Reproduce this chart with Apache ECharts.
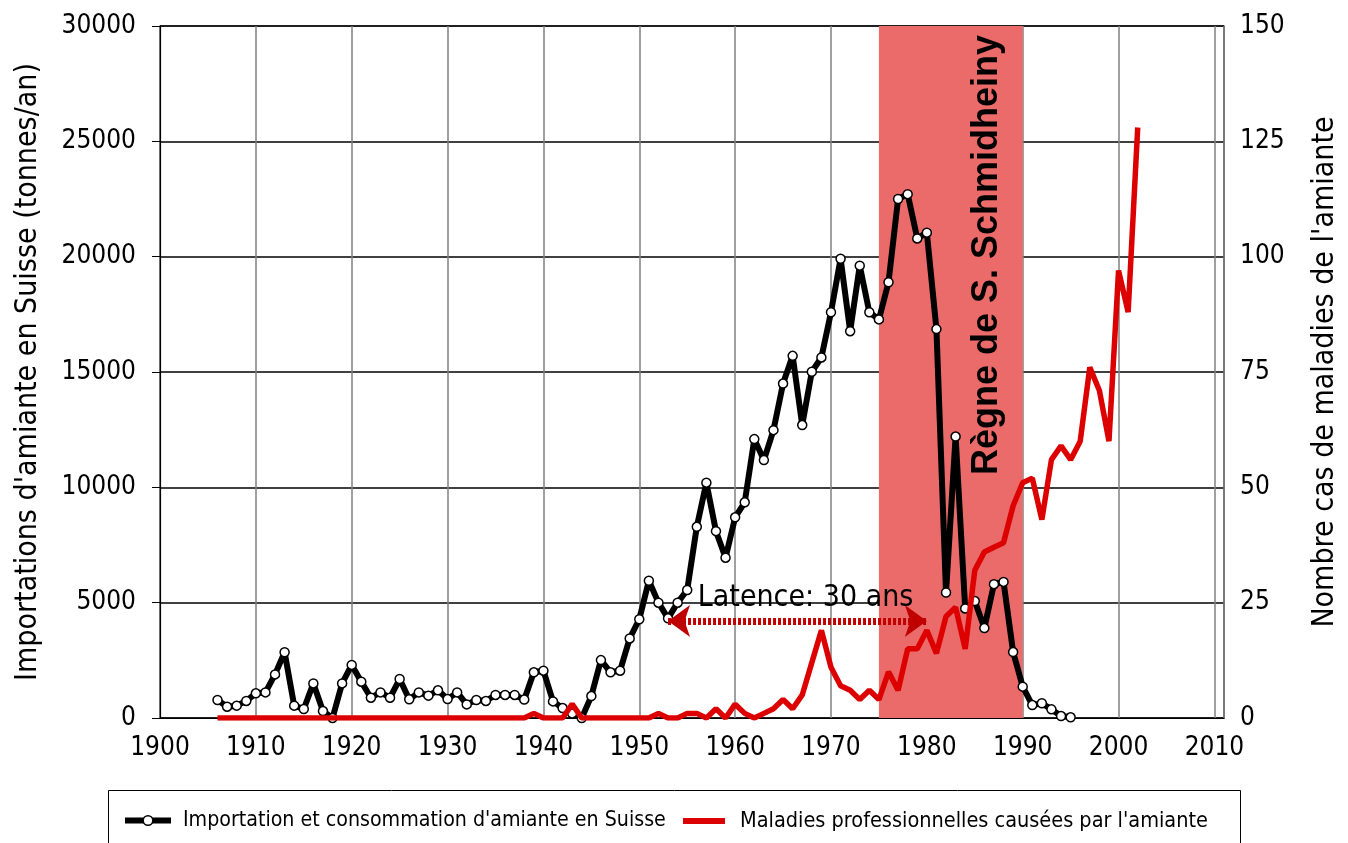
<!DOCTYPE html>
<html>
<head>
<meta charset="utf-8">
<script src="https://cdn.jsdelivr.net/npm/echarts@6/dist/echarts.min.js"></script>
<style>
html,body{margin:0;padding:0;background:#fff;}
#chart{width:1348px;height:843px;}
</style>
</head>
<body>
<div id="chart"></div>
<script>
// ---- Data ----
const importYears = [1906,1907,1908,1909,1910,1911,1912,1913,1914,1915,1916,1917,1918,1919,1920,1921,1922,1923,1924,1925,1926,1927,1928,1929,1930,1931,1932,1933,1934,1935,1936,1937,1938,1939,1940,1941,1942,1943,1944,1945,1946,1947,1948,1949,1950,1951,1952,1953,1954,1955,1956,1957,1958,1959,1960,1961,1962,1963,1964,1965,1966,1967,1968,1969,1970,1971,1972,1973,1974,1975,1976,1977,1978,1979,1980,1981,1982,1983,1984,1985,1986,1987,1988,1989,1990,1991,1992,1993,1994,1995];
const importValues = [780,490,535,740,1070,1110,1890,2850,535,390,1500,300,0,1500,2300,1575,880,1110,880,1690,810,1110,970,1200,820,1110,590,780,740,1000,1000,1000,800,1980,2050,720,430,200,0,950,2510,1980,2050,3450,4280,5950,5000,4320,5000,5550,8290,10200,8100,6950,8700,9350,12090,11180,12480,14500,15700,12700,15010,15630,17590,19910,16770,19610,17590,17280,18890,22500,22710,20790,21040,16860,5440,12200,4750,5070,3900,5800,5900,2860,1360,560,640,375,85,30];
const caseYears = [1906,1907,1908,1909,1910,1911,1912,1913,1914,1915,1916,1917,1918,1919,1920,1921,1922,1923,1924,1925,1926,1927,1928,1929,1930,1931,1932,1933,1934,1935,1936,1937,1938,1939,1940,1941,1942,1943,1944,1945,1946,1947,1948,1949,1950,1951,1952,1953,1954,1955,1956,1957,1958,1959,1960,1961,1962,1963,1964,1965,1966,1967,1968,1969,1970,1971,1972,1973,1974,1975,1976,1977,1978,1979,1980,1981,1982,1983,1984,1985,1986,1987,1988,1989,1990,1991,1992,1993,1994,1995,1996,1997,1998,1999,2000,2001,2002];
const caseValues = [0,0,0,0,0,0,0,0,0,0,0,0,0,0,0,0,0,0,0,0,0,0,0,0,0,0,0,0,0,0,0,0,0,1,0,0,0,3,0,0,0,0,0,0,0,0,1,0,0,1,1,0,2,0,3,1,0,1,2,4,2,5,12,19,11,7,6,4,6,4,10,6,15,15,19,14,22,24,15,32,36,37,38,46,51,52,43,56,59,56,60,76,71,60,97,88,128];
const xTicks = {min:1900, max:2011, interval:10};
const leftTicks = {min:0, max:30000, interval:5000};
const rightTicks = {min:0, max:150, interval:25};
const reignYears = [1975, 1990];
const latencyYears = [1953, 1980];
const latencyLevel = 4200;
const seriesNames = ["Importation et consommation d'amiante en Suisse", "Maladies professionnelles causées par l'amiante"];

const NARROW = "'Liberation Sans Narrow','Arial Narrow','DejaVu Sans Condensed',sans-serif";
const plain = v => String(v);

const chart = echarts.init(document.getElementById('chart'));
const option = {
  animation: false,
  backgroundColor: '#fff',
  grid: {left:160, right:124, top:26, bottom:125, show:true, borderColor:'#000', borderWidth:1.2, z:1},
  legend: [{
    data: [seriesNames[0]], selectedMode: false,
    left: 122, top: 810, padding: 0,
    itemWidth: 46, itemHeight: 12, itemGap: 0,
    lineStyle: {color:'#000', width:6},
    itemStyle: {color:'#fff', borderColor:'#000', borderWidth:1.5},
    textStyle: {fontFamily: NARROW, fontSize: 21.2, color:'#000', padding:[0,0,0,7]}
  },{
    data: [seriesNames[1]], selectedMode: false,
    left: 683, top: 810, padding: 0,
    itemWidth: 42, itemHeight: 6, itemGap: 0, icon: 'rect',
    itemStyle: {color:'#DD0000'},
    textStyle: {fontFamily: NARROW, fontSize: 21.5, color:'#000', padding:[0,0,0,10]}
  }],
  xAxis: {
    type: 'value', min: xTicks.min, max: xTicks.max, interval: xTicks.interval, z: 1,
    axisLine: {show:true, onZero:false, lineStyle:{color:'#000', width:1.2}},
    axisTick: {show:false},
    axisLabel: {fontFamily: NARROW, fontSize: 26, color:'#000', margin: 17, showMaxLabel:false, formatter: plain},
    splitLine: {show:true, lineStyle:{color:'#808080', width:1.5}}
  },
  yAxis: [{
    type: 'value', min: leftTicks.min, max: leftTicks.max, interval: leftTicks.interval, z: 1,
    name: "Importations d'amiante en Suisse (tonnes/an)",
    nameLocation: 'middle', nameRotate: 90, nameGap: 117,
    nameTextStyle: {fontFamily: NARROW, fontSize: 30, color:'#000'},
    axisLine: {show:true, lineStyle:{color:'#000', width:1.2}},
    axisTick: {show:true, length:8, lineStyle:{color:'#000'}},
    axisLabel: {fontFamily: NARROW, fontSize: 26, color:'#000', margin: 24, formatter: plain},
    splitLine: {show:true, lineStyle:{color:'#000', width:1.5}}
  },{
    type: 'value', min: rightTicks.min, max: rightTicks.max, interval: rightTicks.interval, z: 1,
    name: "Nombre cas de maladies de l'amiante",
    nameLocation: 'middle', nameRotate: 90, nameGap: 86,
    nameTextStyle: {fontFamily: NARROW, fontSize: 30, color:'#000'},
    axisLine: {show:false},
    axisTick: {show:false},
    axisLabel: {fontFamily: NARROW, fontSize: 26, color:'#000', margin: 16, formatter: plain},
    splitLine: {show:false}
  }],
  series: [
    {
      name: 'band', type: 'line', data: [], z: 0, silent: true, yAxisIndex: 0,
      markArea: {silent:true, itemStyle:{color:'#EB6B6B'}, data: [[{xAxis: reignYears[0]}, {xAxis: reignYears[1]}]]}
    },
    {
      name: seriesNames[0], type: 'line', yAxisIndex: 0, z: 3,
      data: importYears.map((y,i)=>[y, importValues[i]]),
      symbol: 'circle', symbolSize: 9, showAllSymbol: true,
      lineStyle: {color:'#000', width:6},
      itemStyle: {color:'#fff', borderColor:'#000', borderWidth:1.5},
      markLine: {
        silent: true, symbol: ['arrow','arrow'], symbolSize: [24, 22],
        lineStyle: {color:'#C00000', width:7, type:[3,2]},
        label: {show:false},
        data: [[{coord:[latencyYears[0], latencyLevel]}, {coord:[latencyYears[1], latencyLevel]}]]
      }
    },
    {
      name: seriesNames[1], type: 'line', yAxisIndex: 1, z: 4,
      data: caseYears.map((y,i)=>[y, caseValues[i]]),
      symbol: 'none', lineStyle: {color:'#DD0000', width:5.5}, itemStyle:{color:'#DD0000'}
    }
  ]
};
chart.setOption(option);

const pBand = chart.convertToPixel({xAxisIndex:0, yAxisIndex:0}, [1986.3, 20070]);
const pLat = chart.convertToPixel({xAxisIndex:0, yAxisIndex:0}, [1956.1, 5200]);
chart.setOption({
  graphic: [
    {type:'text', x:pBand[0], y:pBand[1], rotation: Math.PI/2, z: 10,
     style:{text:'Règne de S. Schmidheiny', font:"bold 36px 'Liberation Sans', Arial, sans-serif", fill:'#000', align:'center', verticalAlign:'middle'}},
    {type:'text', x:pLat[0], y:pLat[1], z: 10,
     style:{text:'Latence: 30 ans', font:"30px " + NARROW, fill:'#000', align:'left', verticalAlign:'middle'}},
    {type:'rect', shape:{x:108.5, y:790.5, width:1132, height:80}, z: 10, silent:true,
     style:{fill:null, stroke:'#000', lineWidth:1}}
  ]
});
</script>
</body>
</html>
